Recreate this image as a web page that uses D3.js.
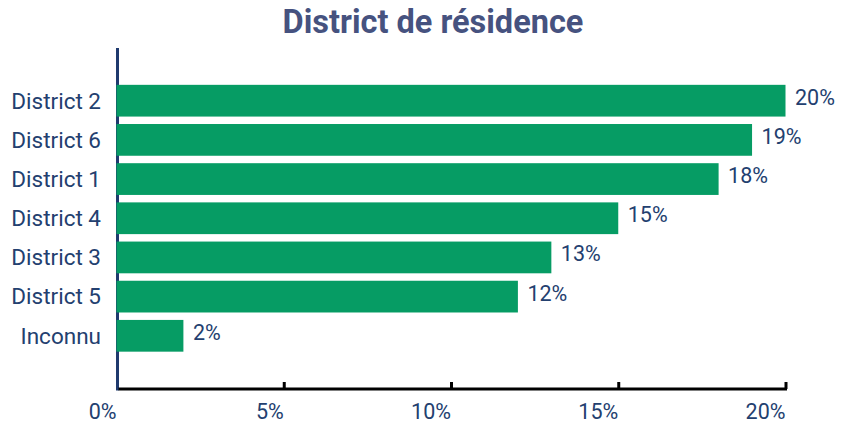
<!DOCTYPE html>
<html><head><meta charset="utf-8">
<script src="https://cdn.jsdelivr.net/npm/d3@7"></script>
<style>html,body{margin:0;padding:0;background:#fff;}svg{display:block;font-family:Roboto,"Noto Sans",sans-serif;}</style>
</head><body>
<script>
const categories = ["District 2","District 6","District 1","District 4","District 3","District 5","Inconnu"];
const values = [20, 19, 18, 15, 13, 12, 2];
const tickValues = [0, 5, 10, 15, 20];
const titleText = "District de résidence";

const W = 847, H = 423;
const svg = d3.select("body").append("svg").attr("width", W).attr("height", H);
const x = d3.scaleLinear().domain([0, 20]).range([116.5, 785.5]);
const y = d3.scaleBand().domain(categories).range([48, 388.5]).paddingInner(0.19).paddingOuter(0.94);

svg.append("text").attr("x", 433).attr("y", 33).attr("text-anchor", "middle")
  .attr("font-size", 32.5).attr("font-weight", 700).attr("fill", "#46527f").text(titleText);

// y axis line
svg.append("line").attr("x1", 117.5).attr("x2", 117.5).attr("y1", 48).attr("y2", 390.5)
  .attr("stroke", "#1f3a6e").attr("stroke-width", 3);

// x axis
const xAxis = svg.append("g").attr("transform", "translate(0,389)")
  .call(d3.axisTop(x).tickValues(tickValues.slice(1)).tickSize(7).tickFormat(""));
xAxis.select(".domain").attr("d", `M${x(0)+2},0H${x(20)+1.5}`).attr("stroke", "#000").attr("stroke-width", 3);
xAxis.selectAll(".tick line").attr("stroke", "#000").attr("stroke-width", 3);

svg.append("g").selectAll("text").data(tickValues).join("text")
  .attr("x", d => x(d)).attr("y", 419).attr("text-anchor", "end")
  .attr("font-size", 21.5).attr("fill", "#23406f").text(d => d + "%");

// bars
svg.append("g").selectAll("rect").data(values).join("rect")
  .attr("x", x(0)).attr("y", (d, i) => y(categories[i]))
  .attr("width", d => x(d) - x(0)).attr("height", y.bandwidth())
  .attr("fill", "#069c64");

// value labels
svg.append("g").selectAll("text").data(values).join("text")
  .attr("x", d => x(d) + 9.5).attr("y", (d, i) => y(categories[i]) + y.bandwidth() / 2 - 3.5)
  .attr("dy", "0.35em").attr("font-size", 21.5).attr("fill", "#23406f").text(d => d + "%");

// category labels
svg.append("g").selectAll("text").data(categories).join("text")
  .attr("x", 101).attr("y", d => y(d) + y.bandwidth() / 2).attr("dy", "0.35em")
  .attr("text-anchor", "end").attr("font-size", 22.5).attr("fill", "#23406f").text(d => d);
</script>
</body></html>
